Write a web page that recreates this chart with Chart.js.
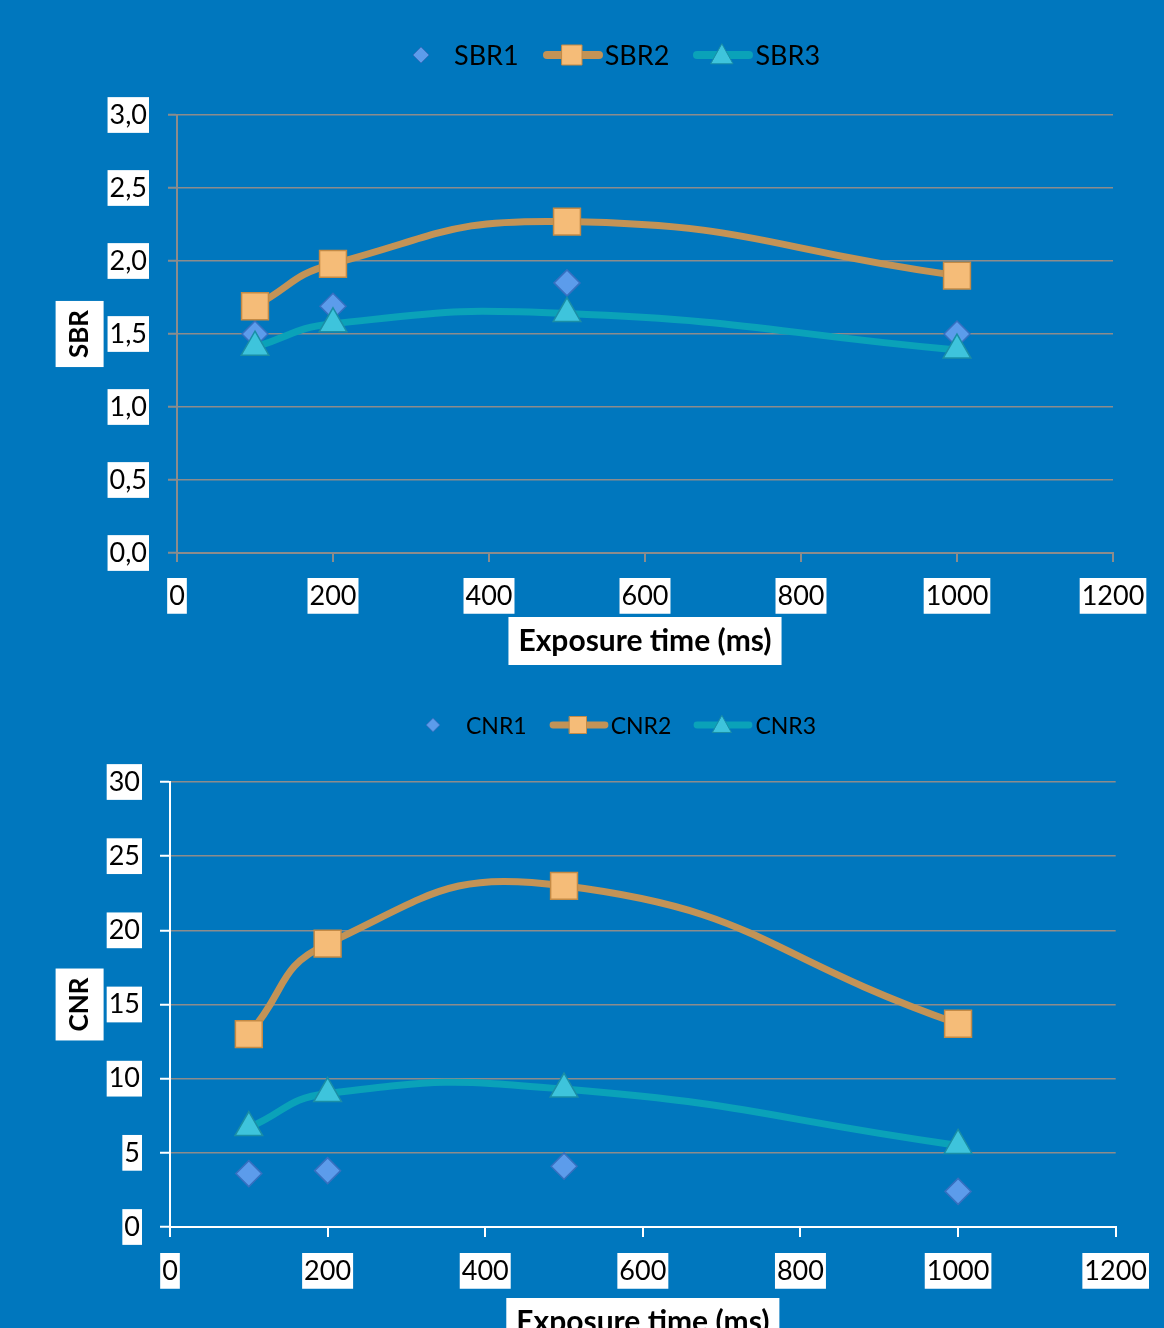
<!DOCTYPE html>
<html>
<head>
<meta charset="utf-8">
<script src="https://cdn.jsdelivr.net/npm/chart.js@4.4.1/dist/chart.umd.min.js"></script>
<style>
  body { margin: 0; background: #0077be; width: 1164px; height: 1328px; overflow: hidden; position: relative; font-family: Lato, sans-serif; }
  .wrap { position: absolute; left: 0; }
  .legend { position: absolute; display: flex; align-items: center; color: #000; }
  .legend .item { display: flex; align-items: center; }
  .legend canvas { display: block; }
</style>
</head>
<body>
<div class="wrap" style="top:0"><canvas id="sbrChart" width="1164" height="670"></canvas></div>
<div class="wrap" style="top:680px"><canvas id="cnrChart" width="1164" height="680"></canvas></div>
<div class="legend" id="sbrLegend" style="left:392px; top:38px; font-size:27px"></div>
<div class="legend" id="cnrLegend" style="left:404px; top:710px; font-size:23px"></div>
<script>
// exposure times (ms)
const exposure = [100, 200, 500, 1000];

const sbr1 = [1.50, 1.69, 1.85, 1.50];
const sbr2 = [1.69, 1.98, 2.27, 1.90];
const sbr3 = [1.41, 1.57, 1.64, 1.39];

const cnr1 = [3.6, 3.8, 4.1, 2.4];
const cnr2 = [13.0, 19.1, 23.0, 13.7];
const cnr3 = [6.7, 9.0, 9.3, 5.5];

const xTickLabels = ["0", "200", "400", "600", "800", "1000", "1200"];
const sbrTickLabels = ["0,0", "0,5", "1,0", "1,5", "2,0", "2,5", "3,0"];
const cnrTickLabels = ["0", "5", "10", "15", "20", "25", "30"];

const seriesNames1 = ["SBR1", "SBR2", "SBR3"];
const seriesNames2 = ["CNR1", "CNR2", "CNR3"];

const col = {
  diamond: "#5c9ceb", diamondBorder: "#3670c0",
  square: "#f5bc78", squareBorder: "#c48a45", tan: "#c39356",
  tri: "#3ec4dc", triBorder: "#1a8ea6", teal: "#0aa2b9",
  grid: "#8c8c8c"
};

function pts(values) {
  return values.map((v, i) => ({ x: exposure[i], y: v }));
}

function makeDatasets(names, a, b, c, sizes) {
  return [
    {
      label: names[0], data: pts(a), showLine: false, order: 2,
      pointStyle: "rectRot", pointRadius: sizes[0], pointHoverRadius: sizes[0],
      pointBackgroundColor: col.diamond, pointBorderColor: col.diamondBorder, pointBorderWidth: 1.5
    },
    {
      label: names[1], data: pts(b), showLine: true, order: 1, tension: 0.5,
      borderColor: col.tan, borderWidth: 7, borderCapStyle: "round",
      pointStyle: "rect", pointRadius: sizes[1], pointHoverRadius: sizes[1],
      pointBackgroundColor: col.square, pointBorderColor: col.squareBorder, pointBorderWidth: 1.5
    },
    {
      label: names[2], data: pts(c), showLine: true, order: 0, tension: 0.5,
      borderColor: col.teal, borderWidth: 7, borderCapStyle: "round",
      pointStyle: "triangle", pointRadius: sizes[2], pointHoverRadius: sizes[2],
      pointBackgroundColor: col.tri, pointBorderColor: col.triBorder, pointBorderWidth: 1.5
    }
  ];
}

// white boxes behind the axis titles
const titleBoxes = {
  id: "titleBoxes",
  beforeDraw(chart) {
    const ctx = chart.ctx;
    Object.values(chart.scales).forEach((s) => {
      const t = s.options.title;
      if (!t.display) return;
      const f = Chart.helpers.toFont(t.font);
      const pad = Chart.helpers.toPadding(t.padding);
      ctx.save();
      ctx.font = f.string;
      const tw = ctx.measureText(t.text).width;
      ctx.fillStyle = "#fff";
      if (s.isHorizontal()) {
        const cx = (s.left + s.right) / 2;
        const cy = s.bottom - f.lineHeight / 2 - pad.bottom;
        ctx.fillRect(cx - tw / 2 - 10, cy - 24, tw + 20, 48);
      } else {
        const cx = s.left + f.lineHeight / 2 + pad.top;
        const cy = (s.top + s.bottom) / 2;
        ctx.fillRect(cx - 24, cy - tw / 2 - 9, 48, tw + 18);
      }
      ctx.restore();
    });
  }
};

function makeChart(id, datasets, cfg) {
  const tickFont = { family: "Lato", size: 27, lineHeight: 1.25 };
  return new Chart(document.getElementById(id), {
    type: "scatter",
    data: { datasets },
    options: {
      responsive: false,
      animation: false,
      events: [],
      layout: { padding: { top: cfg.top, right: cfg.right, left: 0, bottom: 0 } },
      plugins: { legend: { display: false }, tooltip: { enabled: false } },
      scales: {
        x: {
          type: "linear", min: 0, max: 1200,
          afterFit: (s) => { s.height = cfg.xHeight; },
          ticks: {
            stepSize: 200, color: "#000", font: tickFont, padding: cfg.xPad,
            maxRotation: 0, autoSkip: false,
            showLabelBackdrop: true, backdropColor: "#fff", backdropPadding: { x: 2, y: 1 },
            callback: (v, i) => xTickLabels[i]
          },
          grid: { drawOnChartArea: false, drawTicks: true, tickLength: cfg.tick, color: cfg.axis, lineWidth: 2 },
          border: { color: cfg.axis, width: 2 },
          title: {
            display: true, text: "Exposure time (ms)", color: "#000",
            font: { family: "Lato", size: 30, weight: "bold" }, padding: { top: 4, bottom: cfg.xTitlePad }
          }
        },
        y: {
          type: "linear", min: 0, max: cfg.yMax,
          afterFit: (s) => { s.width = cfg.yWidth; },
          ticks: {
            stepSize: cfg.yStep, color: "#000", font: tickFont, padding: cfg.yPad,
            showLabelBackdrop: true, backdropColor: "#fff", backdropPadding: { x: 2, y: 1 },
            callback: (v, i) => cfg.yLabels[i]
          },
          grid: { color: col.grid, lineWidth: 1.5, tickLength: cfg.tick, tickColor: cfg.axis, tickWidth: 2 },
          border: { color: cfg.axis, width: 2 },
          title: {
            display: true, text: cfg.yTitle, color: "#000",
            font: { family: "Lato", size: 26, weight: "bold" }, padding: { top: 64, bottom: 0 }
          }
        }
      }
    },
    plugins: [titleBoxes]
  });
}

makeChart("sbrChart", makeDatasets(seriesNames1, sbr1, sbr2, sbr3, [13, 19, 16]), {
  top: 115, right: 51, xHeight: 117, yWidth: 177, yMax: 3, yStep: 0.5,
  yLabels: sbrTickLabels, yTitle: "SBR", tick: 9, xPad: 17, yPad: 21, xTitlePad: 11,
  axis: col.grid
});

makeChart("cnrChart", makeDatasets(seriesNames2, cnr1, cnr2, cnr3, [13, 19, 16]), {
  top: 102, right: 47, xHeight: 133, yWidth: 170, yMax: 30, yStep: 5,
  yLabels: cnrTickLabels, yTitle: "CNR", tick: 10, xPad: 17, yPad: 20, xTitlePad: 20,
  axis: "#ffffff"
});

// legend swatches
function swatch(kind, scale) {
  const c = document.createElement("canvas");
  c.width = 60; c.height = 30;
  const g = c.getContext("2d");
  const cx = 29, cy = 15;
  if (kind !== "diamond") {
    g.strokeStyle = kind === "square" ? col.tan : col.teal;
    g.lineWidth = 8 * scale; g.lineCap = "round";
    g.beginPath(); g.moveTo(4, cy); g.lineTo(56, cy); g.stroke();
  }
  g.lineWidth = 1;
  g.beginPath();
  if (kind === "diamond") {
    const r = 8 * scale;
    g.moveTo(cx, cy - r); g.lineTo(cx + r, cy); g.lineTo(cx, cy + r); g.lineTo(cx - r, cy); g.closePath();
    g.fillStyle = col.diamond; g.strokeStyle = col.diamondBorder;
  } else if (kind === "square") {
    const h = 10 * scale;
    g.rect(cx - h, cy - h, 2 * h, 2 * h);
    g.fillStyle = col.square; g.strokeStyle = col.squareBorder;
  } else {
    const h = 11 * scale;
    g.moveTo(cx, cy - h); g.lineTo(cx + h, cy + h * 0.8); g.lineTo(cx - h, cy + h * 0.8); g.closePath();
    g.fillStyle = col.tri; g.strokeStyle = col.triBorder;
  }
  g.fill(); g.stroke();
  return c;
}

function buildLegend(id, names, scale, gap) {
  const el = document.getElementById(id);
  ["diamond", "square", "tri"].forEach((k, i) => {
    const item = document.createElement("span");
    item.className = "item";
    if (i > 0) item.style.marginLeft = gap + "px";
    item.appendChild(swatch(k, scale));
    const t = document.createElement("span");
    t.textContent = names[i];
    t.style.marginLeft = "2px";
    item.appendChild(t);
    el.appendChild(item);
  });
}

buildLegend("sbrLegend", seriesNames1, 1, 24);
buildLegend("cnrLegend", seriesNames2, 0.85, 22);
</script>
</body>
</html>
